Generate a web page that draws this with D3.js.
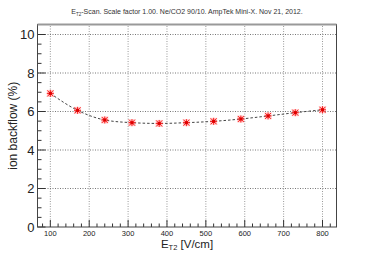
<!DOCTYPE html>
<html>
<head>
<meta charset="utf-8">
<script src="https://cdn.jsdelivr.net/npm/d3@7"></script>
<style>
  body { margin: 0; background: #fff; }
  svg { display: block; font-family: "Liberation Sans", Arial, sans-serif; }
</style>
</head>
<body>
<div id="chart"></div>
<script>
// E_T2 scan values
const fields = [100, 170, 240, 310, 380, 450, 520, 590, 660, 730, 800];
const backflow = [6.94, 6.06, 5.56, 5.42, 5.38, 5.42, 5.49, 5.61, 5.77, 5.94, 6.09];
const xTicks = [100, 200, 300, 400, 500, 600, 700, 800];
const yTicks = [0, 2, 4, 6, 8, 10];

const width = 374, height = 253;
const m = { left: 37.5, right: 37.5, top: 24.5, bottom: 26 };

const x = d3.scaleLinear().domain([67, 836]).range([m.left, width - m.right]);
const y = d3.scaleLinear().domain([0, 10.52]).range([height - m.bottom, m.top]);

const svg = d3.select('#chart').append('svg')
  .attr('width', width).attr('height', height);

const x0 = x.range()[0], x1 = x.range()[1];
const y0 = y.range()[0], y1 = y.range()[1];

// grid
svg.append('g').selectAll('line').data(xTicks).join('line')
  .attr('x1', d => x(d)).attr('x2', d => x(d))
  .attr('y1', y0).attr('y2', y1)
  .attr('stroke', '#999').attr('stroke-width', 1)
  .attr('stroke-dasharray', '1,1.5');
svg.append('g').selectAll('line').data(yTicks.filter(d => d > 0)).join('line')
  .attr('x1', x0).attr('x2', x1)
  .attr('y1', d => y(d)).attr('y2', d => y(d))
  .attr('stroke', '#777').attr('stroke-width', 1)
  .attr('stroke-dasharray', '1,1.5');

// minor ticks
const xMinor = d3.range(80, 836, 20);
const yMinor = d3.range(0, 10.5, 0.5);
svg.append('g').selectAll('line').data(xMinor).join('line')
  .attr('x1', d => x(d)).attr('x2', d => x(d))
  .attr('y1', y0).attr('y2', d => y0 - (d % 100 === 0 ? 7 : 3.5))
  .attr('stroke', '#333');
svg.append('g').selectAll('line').data(yMinor).join('line')
  .attr('x1', x0).attr('x2', d => x0 + (d % 2 === 0 ? 8 : 4))
  .attr('y1', d => y(d)).attr('y2', d => y(d))
  .attr('stroke', '#333');

// frame
svg.append('rect')
  .attr('x', x0).attr('y', y1).attr('width', x1 - x0).attr('height', y0 - y1)
  .attr('fill', 'none').attr('stroke', '#444').attr('stroke-width', 1);
svg.append('line')
  .attr('x1', x0).attr('x2', x1).attr('y1', y1).attr('y2', y1)
  .attr('stroke', '#999').attr('stroke-width', 2);

// tick labels
svg.append('g').selectAll('text').data(xTicks).join('text')
  .attr('x', d => x(d)).attr('y', y0 + 8.5)
  .attr('text-anchor', 'middle').attr('font-size', 7.5).attr('fill', '#222')
  .text(d => d);
svg.append('g').selectAll('text').data(yTicks).join('text')
  .attr('x', x0 - 3).attr('y', d => y(d) + 4.5)
  .attr('text-anchor', 'end').attr('font-size', 13).attr('fill', '#222')
  .text(d => d);

// fit curve
const line = d3.line().x((d, i) => x(fields[i])).y(d => y(d)).curve(d3.curveMonotoneX);
svg.append('path').datum(backflow)
  .attr('d', line).attr('fill', 'none')
  .attr('stroke', '#444').attr('stroke-width', 1)
  .attr('stroke-dasharray', '2.5,2');

// markers
const mk = svg.append('g').selectAll('g').data(backflow).join('g')
  .attr('transform', (d, i) => `translate(${x(fields[i])},${y(d)})`);
mk.append('rect').attr('x', -3.5).attr('y', -3.5).attr('width', 7).attr('height', 7)
  .attr('fill', '#f66').attr('opacity', 0.35);
[[-3.5, 0, 3.5, 0], [0, -3.5, 0, 3.5], [-3, -3, 3, 3], [-3, 3, 3, -3]].forEach(s => {
  mk.append('line').attr('x1', s[0]).attr('y1', s[1]).attr('x2', s[2]).attr('y2', s[3])
    .attr('stroke', '#f22').attr('stroke-width', 1);
});
mk.append('rect').attr('x', -1.5).attr('y', -1.5).attr('width', 3).attr('height', 3)
  .attr('fill', '#d00');

// titles
const t = svg.append('text').attr('x', 187).attr('y', 14)
  .attr('text-anchor', 'middle').attr('font-size', 7).attr('fill', '#333');
t.append('tspan').text('E');
t.append('tspan').attr('font-size', 4.5).attr('dy', 1.5).text('T2');
t.append('tspan').attr('dy', -1.5).text('-Scan. Scale factor 1.00. Ne/CO2 90/10. AmpTek Mini-X. Nov 21, 2012.');

const xt = svg.append('text').attr('x', 187).attr('y', 247.5)
  .attr('text-anchor', 'middle').attr('font-size', 11.5).attr('fill', '#222');
xt.append('tspan').text('E');
xt.append('tspan').attr('font-size', 7.5).attr('dy', 2.5).text('T2');
xt.append('tspan').attr('dy', -2.5).text(' [V/cm]');

svg.append('text')
  .attr('transform', `translate(17,${(y0 + y1) / 2}) rotate(-90)`)
  .attr('text-anchor', 'middle').attr('font-size', 12).attr('fill', '#222')
  .text('ion backflow (%)');
</script>
</body>
</html>
